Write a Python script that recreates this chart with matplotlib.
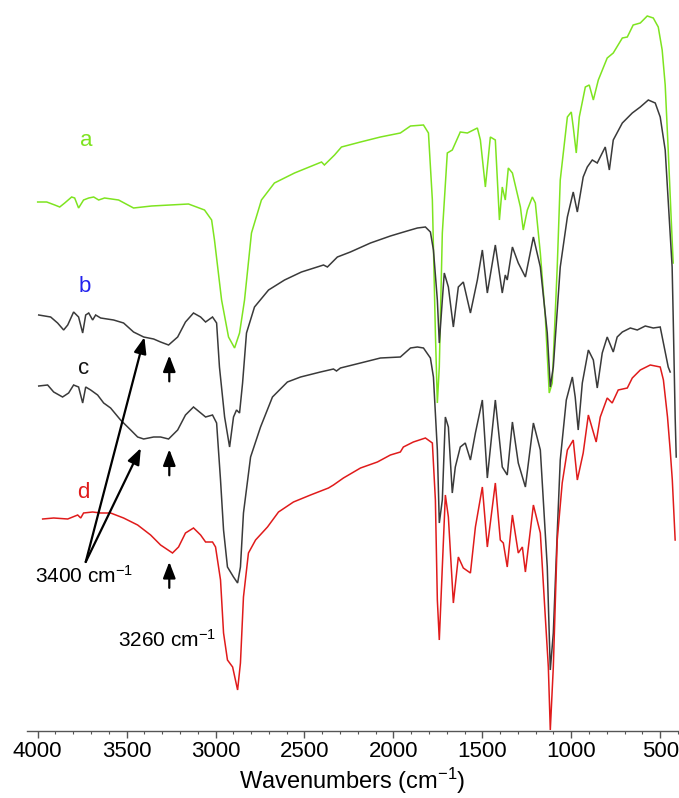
import matplotlib
matplotlib.use("Agg")
import matplotlib.pyplot as plt
import numpy as np
from matplotlib.ticker import MultipleLocator

plt.rcParams["font.family"] = ["Liberation Sans", "DejaVu Sans"]
plt.rcParams["mathtext.fontset"] = "custom"
plt.rcParams["mathtext.rm"] = "Liberation Sans"
plt.rcParams["mathtext.it"] = "Liberation Sans:italic"

# spectra: wavenumber (cm-1) and offset transmittance (a.u.)
wn_a = [4000, 3949, 3904, 3876, 3848, 3809, 3792, 3770, 3742, 3713, 3685, 3657, 3624, 3545, 3461,
        3360, 3152, 3062, 3022, 3006, 2966, 2927, 2893, 2865, 2837, 2798, 2742, 2669, 2556, 2404,
        2388, 2331, 2292, 2185, 2073, 1961, 1904, 1831, 1803, 1781, 1764, 1753, 1742, 1725, 1697,
        1669, 1624, 1584, 1528, 1511, 1483, 1455, 1427, 1404, 1388, 1371, 1354, 1331, 1286, 1270,
        1247, 1219, 1202, 1174, 1146, 1124, 1107, 1079, 1062, 1022, 1000, 989, 972, 955, 921,
        899, 876, 848, 798, 764, 713, 685, 652, 612, 573, 539, 511, 489, 472, 455, 438, 427]
t_a = [529, 529, 526, 524, 528, 534, 533, 523, 531, 533, 534, 531, 533, 531, 523,
       525, 527, 521, 511, 491, 431, 394, 383, 398, 431, 498, 531, 548, 558, 569,
       566, 576, 584, 589, 594, 598, 605, 606, 598, 531, 398, 328, 364, 498, 578,
       581, 599, 598, 603, 591, 544, 594, 591, 511, 544, 531, 563, 558, 524, 501,
       521, 534, 528, 478, 414, 338, 348, 464, 551, 614, 619, 604, 578, 614, 644,
       646, 631, 651, 673, 678, 693, 694, 706, 708, 715, 713, 704, 681, 646, 581, 511, 468]

wn_b = [3994, 3927, 3888, 3854, 3831, 3798, 3770, 3747, 3730, 3713, 3691, 3674, 3646, 3573, 3517,
        3461, 3404, 3348, 3309, 3264, 3213, 3169, 3124, 3084, 3056, 3017, 2994, 2978, 2949, 2921,
        2899, 2882, 2865, 2848, 2826, 2781, 2702, 2612, 2517, 2393, 2371, 2315, 2242, 2129, 2017,
        1961, 1904, 1865, 1820, 1792, 1775, 1753, 1742, 1725, 1714, 1691, 1663, 1635, 1607, 1567,
        1528, 1500, 1472, 1427, 1388, 1371, 1360, 1331, 1298, 1258, 1213, 1174, 1135, 1118, 1101,
        1062, 1022, 989, 966, 933, 910, 882, 854, 809, 786, 764, 713, 657, 612, 567, 528, 500,
        472, 433, 427, 416, 410]
t_b = [416, 414, 408, 401, 406, 419, 414, 398, 416, 418, 411, 416, 413, 411, 408,
       399, 394, 392, 389, 386, 394, 409, 418, 414, 409, 414, 408, 364, 314, 284,
       314, 321, 318, 348, 398, 424, 441, 451, 459, 466, 464, 474, 479, 488, 495,
       498, 501, 503, 504, 499, 481, 431, 388, 431, 458, 444, 404, 444, 449, 418,
       451, 481, 438, 486, 438, 456, 451, 484, 468, 454, 494, 464, 398, 344, 364,
       464, 514, 539, 519, 554, 564, 571, 568, 584, 561, 591, 608, 618, 624, 631, 628, 614,
       581, 464, 414, 314, 274]

wn_c = [3994, 3944, 3910, 3860, 3826, 3798, 3770, 3747, 3730, 3702, 3663, 3629, 3590, 3534, 3477,
        3438, 3404, 3348, 3309, 3264, 3213, 3169, 3124, 3090, 3056, 3017, 2994, 2972, 2955, 2933,
        2899, 2876, 2860, 2843, 2803, 2747, 2680, 2596, 2522, 2410, 2337, 2320, 2298, 2185, 2073,
        1961, 1904, 1865, 1831, 1792, 1775, 1753, 1742, 1725, 1708, 1691, 1669, 1652, 1624, 1596,
        1567, 1539, 1500, 1472, 1427, 1388, 1360, 1331, 1298, 1258, 1213, 1174, 1135, 1118, 1101,
        1079, 1062, 1028, 994, 978, 961, 938, 904, 876, 854, 826, 798, 764, 742, 713, 668, 629,
        584, 539, 500, 482, 455, 444]
t_c = [345, 346, 339, 334, 338, 346, 344, 328, 344, 341, 336, 328, 323, 311, 301,
       294, 292, 294, 294, 292, 301, 316, 324, 319, 314, 316, 308, 251, 201, 164,
       154, 148, 164, 218, 274, 304, 334, 349, 354, 359, 362, 360, 363, 368, 373,
       374, 383, 384, 383, 373, 354, 281, 208, 231, 314, 304, 238, 264, 284, 288,
       271, 298, 331, 253, 331, 264, 256, 309, 268, 244, 308, 281, 164, 61, 98,
       198, 271, 331, 354, 334, 301, 348, 381, 371, 343, 378, 394, 379, 394, 399, 403, 401,
       405, 403, 404, 388, 364, 359]

wn_d = [3972, 3910, 3831, 3775, 3758, 3742, 3691, 3646, 3590, 3517, 3438, 3365, 3309, 3242, 3208,
        3169, 3124, 3084, 3056, 3017, 3000, 2983, 2972, 2955, 2933, 2904, 2876, 2860, 2843, 2815,
        2775, 2708, 2646, 2562, 2466, 2365, 2337, 2281, 2185, 2090, 2017, 1961, 1944, 1888, 1820,
        1781, 1764, 1753, 1742, 1725, 1708, 1691, 1663, 1635, 1607, 1567, 1539, 1500, 1472, 1427,
        1399, 1382, 1360, 1331, 1298, 1275, 1258, 1213, 1174, 1146, 1129, 1118, 1101, 1079, 1051,
        1022, 989, 966, 933, 904, 860, 837, 798, 770, 736, 685, 657, 612, 556, 500, 482, 459,
        444, 432, 416]
t_d = [212, 213, 212, 216, 213, 218, 219, 218, 218, 213, 206, 196, 186, 178, 184,
       198, 203, 196, 189, 189, 184, 164, 151, 98, 71, 64, 41, 68, 134, 178,
       191, 204, 219, 229, 236, 243, 246, 253, 263, 269, 276, 279, 284, 289, 293,
       288, 231, 131, 91, 164, 236, 214, 128, 174, 163, 158, 204, 244, 184, 248,
       191, 188, 164, 216, 178, 184, 159, 226, 198, 114, 64, 1, 64, 191, 248,
       281, 291, 251, 278, 316, 289, 314, 333, 328, 341, 343, 353, 361, 366, 364, 351, 314,
       281, 251, 191]

spectra = [
    ("a", wn_a, t_a, "#7ee420", "#7ee420"),
    ("b", wn_b, t_b, "#3a3a3a", "#2222ee"),
    ("c", wn_c, t_c, "#3a3a3a", "#111111"),
    ("d", wn_d, t_d, "#e01b1b", "#e01b1b"),
]
label_pos = {"a": (3725, 591), "b": (3736, 444), "c": (3742, 363), "d": (3742, 239)}


def curve_at(wn, t, x):
    return float(np.interp(x, wn[::-1], t[::-1]))


fig = plt.figure(figsize=(6.79, 7.98), dpi=100)
ax = fig.add_axes([27 / 679, 67 / 798, 651 / 679, 726 / 798])

for name, wn, t, color, text_color in spectra:
    ax.plot(wn, t, color=color, lw=1.1, solid_joinstyle="miter")
    ax.text(*label_pos[name], name, color=text_color, fontsize=16, ha="center", va="center")

ax.set_xlim(4060, 400)
ax.set_ylim(0, 726)
for side in ("left", "right", "top"):
    ax.spines[side].set_visible(False)
ax.spines["bottom"].set_color("#555555")
ax.spines["bottom"].set_linewidth(1.0)
ax.set_yticks([])
ax.xaxis.set_major_locator(MultipleLocator(500))
ax.xaxis.set_minor_locator(MultipleLocator(100))
ax.tick_params(axis="x", which="major", direction="out", length=5, width=1, colors="#555555",
               labelcolor="black", labelsize=16, pad=2)
ax.tick_params(axis="x", which="minor", direction="out", length=2.5, width=0.8, colors="#555555")
ax.set_xlabel("Wavenumbers (cm$^{-1}$)", fontsize=17, labelpad=3)

arrow = dict(arrowstyle="-|>,head_length=0.65,head_width=0.25", color="black", lw=1.6,
             mutation_scale=15, shrinkA=0, shrinkB=0)

# 3400 cm-1 shoulders on b and c
tail = (3730, 169)
ax.annotate("", xy=(3400, curve_at(wn_b, t_b, 3400)), xytext=tail, arrowprops=arrow)
ax.annotate("", xy=(3420, curve_at(wn_c, t_c, 3420) - 10), xytext=tail, arrowprops=arrow)
ax.text(3739, 155, "3400 cm$^{-1}$", fontsize=15, ha="center", va="center")

# 3260 cm-1 band on b, c and d
for wn, t in ((wn_b, t_b), (wn_c, t_c), (wn_d, t_d)):
    tip = curve_at(wn, t, 3260) - 11
    ax.annotate("", xy=(3260, tip), xytext=(3260, tip - 26), arrowprops=arrow)
ax.text(3275, 91, "3260 cm$^{-1}$", fontsize=15, ha="center", va="center")

fig.savefig("out.png", dpi=100)
